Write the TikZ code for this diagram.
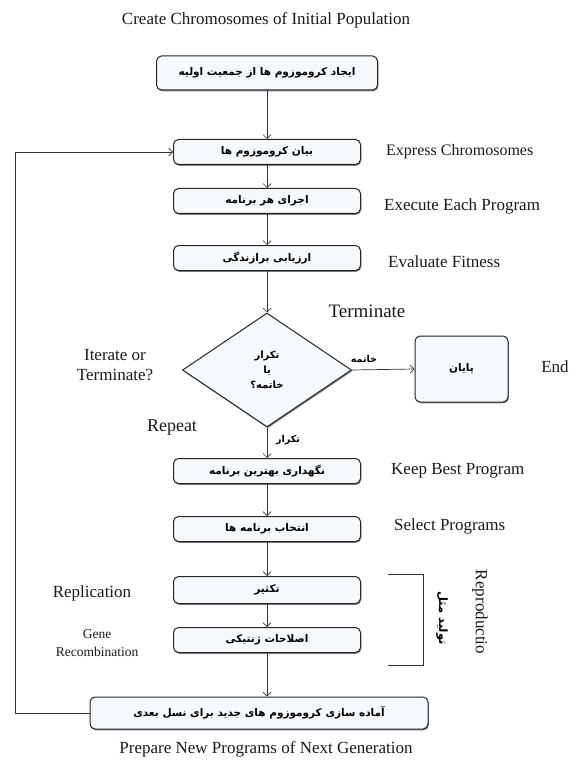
\documentclass[tikz,border=0pt]{standalone}
\usepackage{fontspec}
\setmainfont{Liberation Serif}
\newfontfamily\fa[Script=Arabic]{DejaVu Sans}
\TeXXeTstate=1
\usetikzlibrary{arrows.meta,shapes.geometric,shadows}
\definecolor{boxfill}{HTML}{F6F9FC}
\newcommand\faR[1]{\beginR #1\endR}
\begin{document}
\begin{tikzpicture}[x=1pt,y=-1pt,
  box/.style={draw=black!85, line width=1pt, rounded corners=5pt, fill=boxfill,
    drop shadow={shadow xshift=0.8pt,shadow yshift=-1.3pt,fill=black!55,opacity=0.9},
    inner sep=0pt, font=\fa\bfseries\fontsize{10.5}{13}\selectfont},
  dia/.style={draw=black!85, line width=1pt, fill=boxfill, shape=diamond,
    drop shadow={shadow xshift=0.8pt,shadow yshift=-1.3pt,fill=black!55,opacity=0.9},
    inner sep=0pt, align=center, font=\fa\bfseries\fontsize{10}{15}\selectfont},
  arr/.style={draw=black!80, line width=0.7pt, -{Straight Barb[length=4pt,width=8pt]}},
  lab/.style={font=\fontsize{17}{20}\selectfont, text=black!90, inner sep=0pt},
  falab/.style={font=\fa\bfseries\fontsize{9.5}{12}\selectfont, inner sep=0pt}]
\useasboundingbox (0,0) rectangle (572,767);

% titles
\node[lab] (t0) at (266,20) {Create Chromosomes of Initial Population};
\node[lab] (tb) at (266,749) {Prepare New Programs of Next Generation};

% boxes
\node[box, minimum width=221pt, minimum height=34pt] (b1) at (267,73) {\faR{ایجاد کروموزوم ها از جمعیت اولیه}};
\node[box, minimum width=187pt, minimum height=25pt] (b2) at (267,152) {\faR{بیان کروموزوم ها}};
\node[box, minimum width=187pt, minimum height=25pt] (b3) at (267,201) {\faR{اجرای هر برنامه}};
\node[box, minimum width=187pt, minimum height=25pt] (b4) at (267,258) {\faR{ارزیابی برازندگی}};
\node[dia, minimum width=169pt, minimum height=114pt] (d) at (267,370) {\faR{تکرار}\\\faR{یا}\\\faR{خاتمه؟}};
\node[box, minimum width=93pt, minimum height=66pt] (e) at (461.5,369) {\faR{پایان}};
\node[box, minimum width=187pt, minimum height=25pt] (b5) at (267,471) {\faR{نگهداری بهترین برنامه}};
\node[box, minimum width=187pt, minimum height=25pt] (b6) at (267,529) {\faR{انتخاب برنامه ها}};
\node[box, minimum width=187pt, minimum height=27pt] (b7) at (267,590) {\faR{تکثیر}};
\node[box, minimum width=187pt, minimum height=25pt] (b8) at (267,640) {\faR{اصلاحات ژنتیکی}};
\node[box, minimum width=338pt, minimum height=32pt] (b9) at (259,713) {\faR{آماده سازی کروموزوم های جدید برای نسل بعدی}};

% english labels
\node[lab, anchor=west, font=\fontsize{16}{19}\selectfont] (l2) at (386,152) {Express Chromosomes};
\node[lab, anchor=west] (l3) at (384,206) {Execute Each Program};
\node[lab, anchor=west] (l4) at (388,262) {Evaluate Fitness};
\node[lab, font=\fontsize{19}{22}\selectfont] (lt) at (367,311) {Terminate};
\node[lab, align=center] (li) at (115,365) {Iterate or\\Terminate?};
\node[lab] (le) at (555,367) {End};
\node[lab, font=\fontsize{18}{22}\selectfont] (lr) at (172,428) {Repeat};
\node[lab, anchor=west] (l5) at (391,471) {Keep Best Program};
\node[lab, anchor=west] (l6) at (394,526) {Select Programs};
\node[lab] (l7) at (92,593) {Replication};
\node[lab, align=center, font=\fontsize{13.5}{18}\selectfont] (l8) at (97,643) {Gene\\Recombination};
\node[lab, rotate=-90] (lrep) at (480,612) {Reproductio};
\node[falab, rotate=-90, font=\fa\bfseries\fontsize{11.5}{12}\selectfont] (lrepfa) at (442,618) {\faR{تولید مثل}};

% arrow labels
\node[falab] (ly) at (364,359) {\faR{خاتمه}};
\node[falab] (ln) at (288,440) {\faR{تکرار}};

% connectors
\draw[arr] (b1) -- (b2);
\draw[arr] (b2) -- (b3);
\draw[arr] (b3) -- (b4);
\draw[arr] (b4) -- (d.north);
\draw[arr] (d.east) -- (e.west);
\draw[arr] (d.south) -- (b5.north);
\draw[arr] (b5) -- (b6);
\draw[arr] (b6) -- (b7);
\draw[arr] (b7) -- (b8);
\draw[arr] (b8.south) -- (b8.south |- b9.north);
\coordinate (fb1) at (15,713);
\coordinate (fb2) at (15,152);
\draw[arr] (b9.west) -- (fb1) -- (fb2) -- (b2.west);

% bracket
\coordinate (br1) at (388,574);
\coordinate (br2) at (423,574);
\coordinate (br3) at (423,665);
\coordinate (br4) at (388,665);
\draw[draw=black!80, line width=0.8pt] (br1) -- (br2) -- (br3) -- (br4);
\end{tikzpicture}
\end{document}
